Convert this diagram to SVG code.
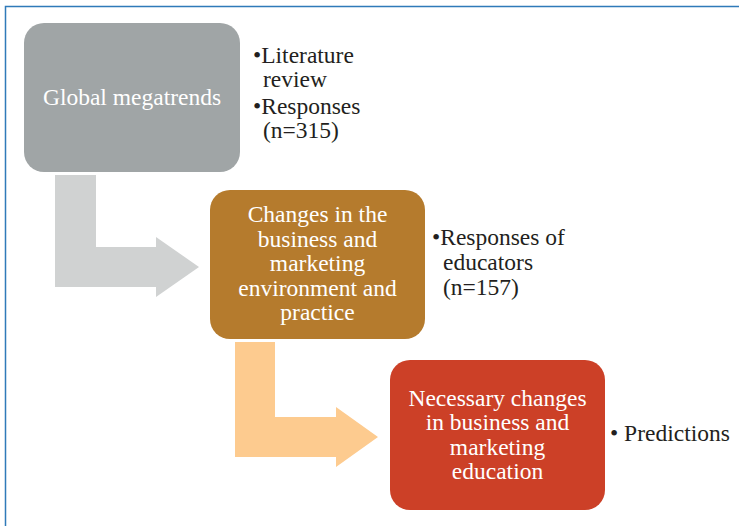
<svg xmlns="http://www.w3.org/2000/svg" width="739" height="526" viewBox="0 0 739 526">
<rect width="739" height="526" fill="#ffffff"/>
<g id="frame" fill="none" stroke="#2f7ab9" stroke-width="1.5">
<path d="M5.5 526 V6.5 H739"/>
</g>
<g id="connectors">
<path d="M55 175 H96 V247 H156 V237 L199 267 L156 297 V287 H55 Z" fill="#d0d2d2"/>
<path d="M235 342 H275 V417 H336 V407 L378 437 L336 467 V457 H235 Z" fill="#fdcb8f"/>
</g>
<g id="node1" fill="#ffffff" text-anchor="middle">
<rect x="24" y="23" width="216" height="149" rx="20" fill="#a0a5a6"/>
<text x="132" y="105" font-family="Liberation Serif" font-size="23.5">Global megatrends</text>
</g>
<g id="list1" fill="#231f20">
<text x="253" y="63" font-family="Liberation Serif" font-size="23.5">•Literature</text>
<text x="263" y="87" font-family="Liberation Serif" font-size="23.5">review</text>
<text x="253" y="114" font-family="Liberation Serif" font-size="23.5">•Responses</text>
<text x="263" y="138" font-family="Liberation Serif" font-size="23.5">(n=315)</text>
</g>
<g id="node2" fill="#ffffff" text-anchor="middle">
<rect x="210" y="190" width="215" height="149" rx="20" fill="#b57b2d"/>
<text x="317.5" y="222" font-family="Liberation Serif" font-size="23.5">Changes in the</text>
<text x="317.5" y="246.5" font-family="Liberation Serif" font-size="23.5">business and</text>
<text x="317.5" y="271" font-family="Liberation Serif" font-size="23.5">marketing</text>
<text x="317.5" y="295.5" font-family="Liberation Serif" font-size="23.5">environment and</text>
<text x="317.5" y="320" font-family="Liberation Serif" font-size="23.5">practice</text>
</g>
<g id="list2" fill="#231f20">
<text x="432" y="245" font-family="Liberation Serif" font-size="23.5">•Responses of</text>
<text x="443" y="270" font-family="Liberation Serif" font-size="23.5">educators</text>
<text x="443" y="295" font-family="Liberation Serif" font-size="23.5">(n=157)</text>
</g>
<g id="node3" fill="#ffffff" text-anchor="middle">
<rect x="390" y="360" width="215" height="150" rx="20" fill="#cc4027"/>
<text x="497.5" y="406" font-family="Liberation Serif" font-size="23.5">Necessary changes</text>
<text x="497.5" y="430" font-family="Liberation Serif" font-size="23.5">in business and</text>
<text x="497.5" y="455" font-family="Liberation Serif" font-size="23.5">marketing</text>
<text x="497.5" y="479" font-family="Liberation Serif" font-size="23.5">education</text>
</g>
<g id="list3" fill="#231f20">
<text x="610" y="441" font-family="Liberation Serif" font-size="23.5">• Predictions</text>
</g>
</svg>
